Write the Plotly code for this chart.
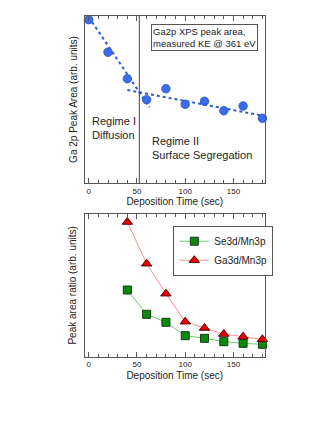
import plotly.graph_objects as go

# top panel: Ga2p XPS peak area
t_ga2p = [0, 20, 40, 60, 80, 100, 120, 140, 160, 180]
ga2p_area = [163.3, 130.7, 104.3, 83.3, 94.3, 78.7, 81.7, 72.3, 77.0, 64.7]

# linear fits for the two regimes
fit1_x = [0, 63]
fit1_y = [166, 75.7]
fit2_x = [40, 182]
fit2_y = [93, 67]
regime_boundary = 52.4

# bottom panel: peak area ratios
t_ratio = [40, 60, 80, 100, 120, 140, 160, 180]
se3d_mn3p = [66.7, 42.4, 34.4, 21.0, 18.4, 15.0, 13.4, 12.4]
ga3d_mn3p = [134.7, 93.0, 63.0, 35.0, 28.7, 22.7, 20.0, 17.4]

W, H = 332, 430
font = "Liberation Sans, Arial, sans-serif"
frame = "#555555"

fig = go.Figure()

fig.add_trace(go.Scatter(x=fit1_x, y=fit1_y, mode="lines", showlegend=False,
                         line=dict(color="#2a5bdc", width=2, dash="dot"),
                         xaxis="x", yaxis="y"))
fig.add_trace(go.Scatter(x=fit2_x, y=fit2_y, mode="lines", showlegend=False,
                         line=dict(color="#2a5bdc", width=2, dash="dot"),
                         xaxis="x", yaxis="y"))
fig.add_trace(go.Scatter(x=[regime_boundary, regime_boundary], y=[0, 167], mode="lines",
                         showlegend=False, line=dict(color="#444444", width=1),
                         xaxis="x", yaxis="y"))
fig.add_trace(go.Scatter(x=t_ga2p, y=ga2p_area, mode="markers", showlegend=False,
                         marker=dict(symbol="circle", size=8.5, color="#3a6cf0",
                                     line=dict(color="#2a4fb0", width=0.8)),
                         cliponaxis=False, xaxis="x", yaxis="y"))

fig.add_trace(go.Scatter(x=t_ratio, y=se3d_mn3p, mode="lines+markers", name="Se3d/Mn3p",
                         line=dict(color="#6fcf6f", width=1),
                         marker=dict(symbol="square", size=8, color="#0a8a0a",
                                     line=dict(color="#1a3a1a", width=1)),
                         cliponaxis=False, xaxis="x2", yaxis="y2"))
fig.add_trace(go.Scatter(x=t_ratio, y=ga3d_mn3p, mode="lines+markers", name="Ga3d/Mn3p",
                         line=dict(color="#ff8c8c", width=1),
                         marker=dict(symbol="triangle-up", size=9, color="#e80000",
                                     line=dict(color="#5a0000", width=1)),
                         cliponaxis=False, xaxis="x2", yaxis="y2"))

xdom = [84.5 / W, 265 / W]
xcommon = dict(range=[-4.4, 182.7], showline=True, linecolor=frame, linewidth=1, mirror="ticks",
               ticks="inside", ticklen=5, tickcolor=frame, tickvals=[0, 50, 100, 150],
               minor=dict(dtick=10, ticks="inside", ticklen=3, tickcolor=frame),
               showgrid=False, zeroline=False, tickfont=dict(size=8, color="#222"),
               automargin=False,
               title=dict(text="Deposition Time (sec)", font=dict(size=10, color="#222"), standoff=3))
ycommon = dict(showline=True, linecolor=frame, linewidth=1, mirror=True, ticks="",
               showticklabels=False, showgrid=False, zeroline=False, automargin=False)

fig.update_layout(
    width=W, height=H, margin=dict(l=0, r=0, t=0, b=0),
    paper_bgcolor="white", plot_bgcolor="white",
    font=dict(family=font, color="#222"),
    xaxis=dict(xcommon, domain=xdom, anchor="y"),
    yaxis=dict(ycommon, domain=[1 - 183 / H, 1 - 16 / H], range=[0, 167], anchor="x",
               title=dict(text="Ga 2p Peak Area (arb. units)", font=dict(size=10), standoff=4)),
    xaxis2=dict(xcommon, domain=xdom, anchor="y2"),
    yaxis2=dict(ycommon, domain=[1 - 356.7 / H, 1 - 214 / H], range=[0, 142.7], anchor="x2",
                title=dict(text="Peak area ratio (arb. units)", font=dict(size=10), standoff=4)),
    legend=dict(x=173.3 / W, y=1 - 225.7 / H, xanchor="left", yanchor="top",
                bordercolor=frame, borderwidth=1, bgcolor="white",
                font=dict(size=10), tracegroupgap=0, itemwidth=30),
    showlegend=True,
)

fig.add_annotation(x=150.7 / W, y=1 - 24 / H, xref="paper", yref="paper",
                   xanchor="left", yanchor="top", align="left", showarrow=False,
                   text="Ga2p XPS peak area,<br>measured KE @ 361 eV",
                   font=dict(size=9.5), bordercolor=frame, borderwidth=1, borderpad=1,
                   bgcolor="white")
fig.add_annotation(x=1, y=70, xref="x", yref="y", xanchor="left", yanchor="top",
                   align="left", showarrow=False, text="Regime I<br>Diffusion",
                   font=dict(size=11))
fig.add_annotation(x=63.5, y=50, xref="x", yref="y", xanchor="left", yanchor="top",
                   align="left", showarrow=False, text="Regime II<br>Surface Segregation",
                   font=dict(size=11))

# body margin off so the 332x430 figure sits flush in the window
fig.write_html("out.html", config={"displayModeBar": False},
               post_script="document.body.style.margin='0';")
